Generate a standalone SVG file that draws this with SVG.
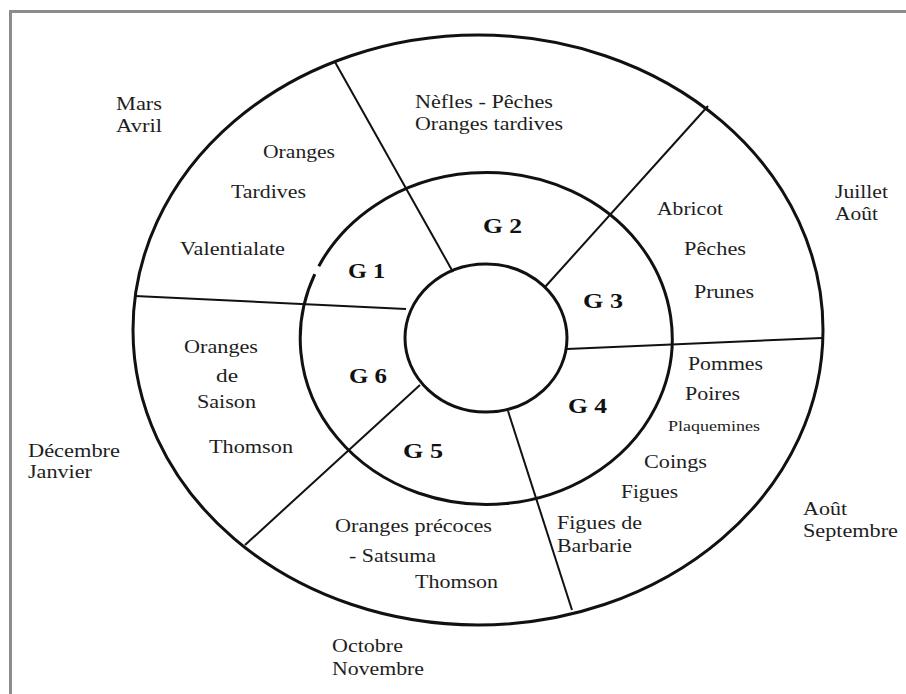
<svg xmlns="http://www.w3.org/2000/svg" width="906" height="694" viewBox="0 0 906 694">
<style>
.t{font-family:"Liberation Serif","Times New Roman",serif;font-size:19px;fill:#1e1e1e}
.s{font-size:15px}
.g{font-family:"Liberation Serif","Times New Roman",serif;font-size:20px;font-weight:bold;fill:#111}
.ring{fill:none;stroke:#111;stroke-width:3}
.div{stroke:#111;stroke-width:2;fill:none}
</style>
<rect width="906" height="694" fill="#fff"/>
<rect x="10.5" y="11.5" width="920" height="720" fill="none" stroke="#8c8c8c" stroke-width="3"/>
<g id="rings">
<ellipse class="ring" cx="478" cy="330" rx="345" ry="295"/>
<path class="ring" d="M318.8,266.2 A186,166 0 1 1 314.8,274.1"/>
<ellipse class="ring" cx="486" cy="338" rx="81" ry="74"/>
</g>
<g id="connectors">
<line class="div" x1="335" y1="62" x2="453" y2="272"/>
<line class="div" x1="545" y1="287" x2="708" y2="106"/>
<line class="div" x1="567" y1="349" x2="822" y2="338"/>
<line class="div" x1="508" y1="411" x2="572" y2="610"/>
<line class="div" x1="420" y1="385" x2="245" y2="545"/>
<line class="div" x1="406" y1="309" x2="135" y2="296"/>
</g>
<g id="G1">
<text class="g" x="348" y="278" textLength="37" lengthAdjust="spacingAndGlyphs">G 1</text>
<text class="t" x="263" y="158" textLength="72" lengthAdjust="spacingAndGlyphs">Oranges</text>
<text class="t" x="231" y="198" textLength="75" lengthAdjust="spacingAndGlyphs">Tardives</text>
<text class="t" x="180" y="255" textLength="105" lengthAdjust="spacingAndGlyphs">Valentialate</text>
<text class="t" x="116" y="110" textLength="46" lengthAdjust="spacingAndGlyphs">Mars</text>
<text class="t" x="116" y="132" textLength="46" lengthAdjust="spacingAndGlyphs">Avril</text>
</g>
<g id="G2">
<text class="g" x="483" y="233" textLength="39" lengthAdjust="spacingAndGlyphs">G 2</text>
<text class="t" x="415" y="108" textLength="138" lengthAdjust="spacingAndGlyphs">Nèfles - Pêches</text>
<text class="t" x="415" y="130" textLength="148" lengthAdjust="spacingAndGlyphs">Oranges tardives</text>
</g>
<g id="G3">
<text class="g" x="583" y="308" textLength="40" lengthAdjust="spacingAndGlyphs">G 3</text>
<text class="t" x="657" y="215" textLength="66" lengthAdjust="spacingAndGlyphs">Abricot</text>
<text class="t" x="684" y="255" textLength="62" lengthAdjust="spacingAndGlyphs">Pêches</text>
<text class="t" x="694" y="298" textLength="60" lengthAdjust="spacingAndGlyphs">Prunes</text>
<text class="t" x="835" y="198" textLength="53" lengthAdjust="spacingAndGlyphs">Juillet</text>
<text class="t" x="835" y="220" textLength="43" lengthAdjust="spacingAndGlyphs">Août</text>
</g>
<g id="G4">
<text class="g" x="568" y="413" textLength="39" lengthAdjust="spacingAndGlyphs">G 4</text>
<text class="t" x="688" y="370" textLength="75" lengthAdjust="spacingAndGlyphs">Pommes</text>
<text class="t" x="685" y="400" textLength="55" lengthAdjust="spacingAndGlyphs">Poires</text>
<text class="t s" x="668" y="431" textLength="92" lengthAdjust="spacingAndGlyphs">Plaquemines</text>
<text class="t" x="644" y="468" textLength="63" lengthAdjust="spacingAndGlyphs">Coings</text>
<text class="t" x="621" y="498" textLength="57" lengthAdjust="spacingAndGlyphs">Figues</text>
<text class="t" x="557" y="529" textLength="85" lengthAdjust="spacingAndGlyphs">Figues de</text>
<text class="t" x="557" y="552" textLength="75" lengthAdjust="spacingAndGlyphs">Barbarie</text>
<text class="t" x="803" y="515" textLength="44" lengthAdjust="spacingAndGlyphs">Août</text>
<text class="t" x="803" y="537" textLength="95" lengthAdjust="spacingAndGlyphs">Septembre</text>
</g>
<g id="G5">
<text class="g" x="403" y="458" textLength="40" lengthAdjust="spacingAndGlyphs">G 5</text>
<text class="t" x="335" y="532" textLength="157" lengthAdjust="spacingAndGlyphs">Oranges précoces</text>
<text class="t" x="349" y="562" textLength="87" lengthAdjust="spacingAndGlyphs">- Satsuma</text>
<text class="t" x="415" y="588" textLength="83" lengthAdjust="spacingAndGlyphs">Thomson</text>
<text class="t" x="332" y="652" textLength="71" lengthAdjust="spacingAndGlyphs">Octobre</text>
<text class="t" x="332" y="675" textLength="92" lengthAdjust="spacingAndGlyphs">Novembre</text>
</g>
<g id="G6">
<text class="g" x="349" y="383" textLength="38" lengthAdjust="spacingAndGlyphs">G 6</text>
<text class="t" x="184" y="353" textLength="74" lengthAdjust="spacingAndGlyphs">Oranges</text>
<text class="t" x="216" y="382" textLength="22" lengthAdjust="spacingAndGlyphs">de</text>
<text class="t" x="197" y="408" textLength="59" lengthAdjust="spacingAndGlyphs">Saison</text>
<text class="t" x="209" y="453" textLength="84" lengthAdjust="spacingAndGlyphs">Thomson</text>
<text class="t" x="28" y="457" textLength="92" lengthAdjust="spacingAndGlyphs">Décembre</text>
<text class="t" x="28" y="478" textLength="64" lengthAdjust="spacingAndGlyphs">Janvier</text>
</g>
</svg>
